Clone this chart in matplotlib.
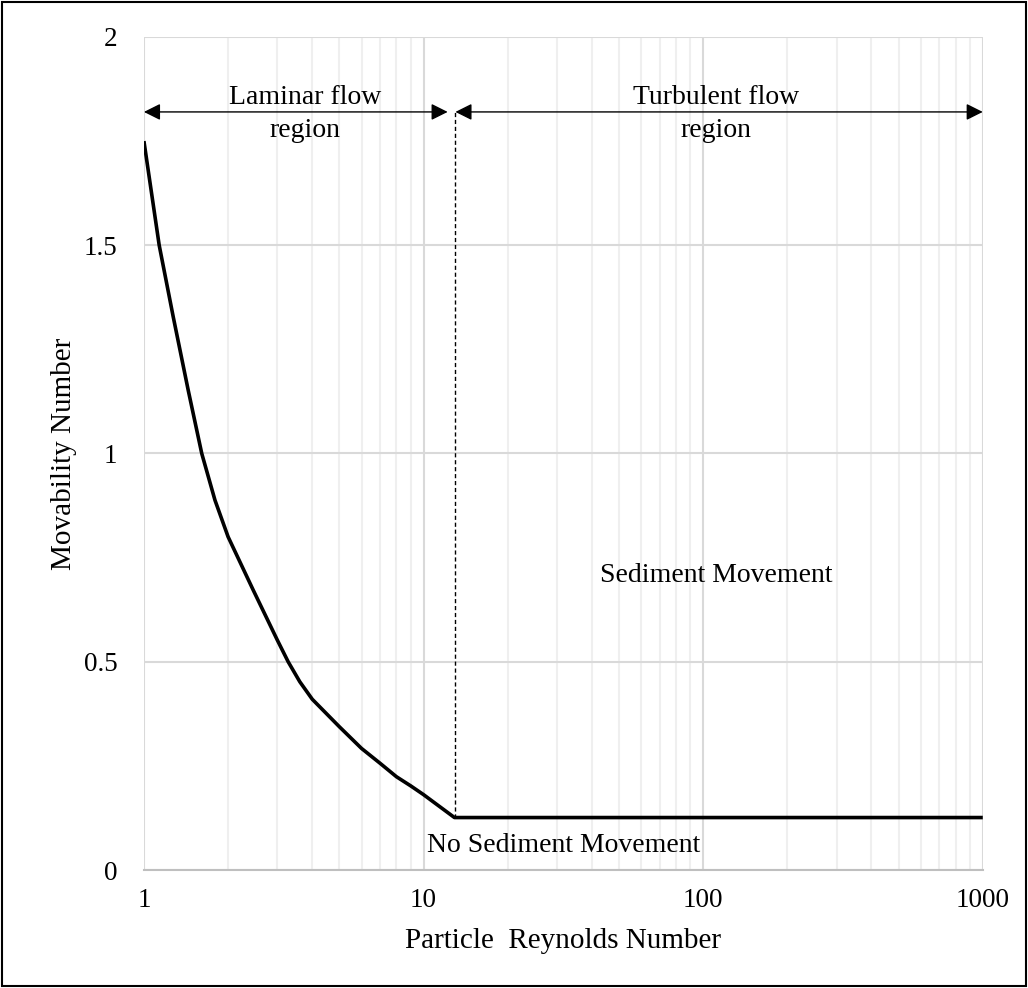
import matplotlib
matplotlib.use("Agg")
import matplotlib.pyplot as plt
from matplotlib.ticker import FixedLocator, LogLocator, NullFormatter, FixedFormatter

plt.rcParams['font.family'] = ['Liberation Serif', 'DejaVu Serif']

# Data
re_p = [1.0, 1.134, 1.273, 1.44, 1.61, 1.795, 2.0, 2.46, 3.0, 3.28, 3.61, 4.0,
        5.0, 6.0, 7.0, 8.0, 9.0, 10.0, 12.9, 1000.0]
mov = [1.75, 1.5, 1.328, 1.152, 1.0, 0.888, 0.80, 0.672, 0.552, 0.5, 0.452, 0.41,
       0.344, 0.292, 0.256, 0.224, 0.202, 0.181, 0.126, 0.126]
boundary_x = 13.0
arrow_y = 1.82
xticks = [1, 10, 100, 1000]
xtick_labels = ["1", "10", "100", "1000"]
yticks = [0, 0.5, 1.0, 1.5, 2.0]
ytick_labels = ["0", "0.5", "1", "1.5", "2"]

fig = plt.figure(figsize=(10.28, 9.88), dpi=100)
ax = fig.add_axes([0.140, 0.1194, 0.816, 0.8432])
ax.set_xscale('log')
ax.set_xlim(1, 1000)
ax.set_ylim(0, 2)

ax.xaxis.set_major_locator(FixedLocator(xticks))
ax.xaxis.set_major_formatter(FixedFormatter(xtick_labels))
ax.xaxis.set_minor_locator(LogLocator(base=10, subs=range(2, 10)))
ax.xaxis.set_minor_formatter(NullFormatter())
ax.yaxis.set_major_locator(FixedLocator(yticks))
ax.yaxis.set_major_formatter(FixedFormatter(ytick_labels))

ax.grid(True, which='major', color='#d9d9d9', linewidth=1.5)
ax.grid(True, which='minor', axis='x', color='#efefef', linewidth=1.5)
ax.set_axisbelow(True)
for s in ['top', 'right', 'left']:
    ax.spines[s].set_visible(False)
ax.spines['bottom'].set_color('#bfbfbf')
ax.spines['bottom'].set_linewidth(1.5)
ax.tick_params(which='both', length=0)
ax.tick_params(axis='x', labelsize=19.5, pad=13)
ax.tick_params(axis='y', labelsize=19.5, pad=19)

ax.plot(re_p, mov, color='black', linewidth=2.6, solid_joinstyle='round',
        solid_capstyle='butt', zorder=5)
ax.plot([boundary_x, boundary_x], [mov[-1], arrow_y], color='black',
        linestyle=(0, (3, 2)), linewidth=1.0, zorder=4)

arrowprops = dict(arrowstyle='<|-|>', color='black', lw=1.0, mutation_scale=25,
                  shrinkA=0, shrinkB=0)
ax.annotate('', xy=(1.0, arrow_y), xytext=(12.2, arrow_y), arrowprops=arrowprops)
ax.annotate('', xy=(13.0, arrow_y), xytext=(1000, arrow_y), arrowprops=arrowprops)

ax.text(3.76, arrow_y - 0.005, 'Laminar flow\nregion', ha='center', va='center',
        fontsize=20, linespacing=1.45)
ax.text(111, arrow_y - 0.005, 'Turbulent flow\nregion', ha='center', va='center',
        fontsize=20, linespacing=1.45)
ax.text(111, 0.706, 'Sediment Movement', ha='center', va='center', fontsize=20)
ax.text(31.6, 0.06, 'No Sediment Movement', ha='center', va='center', fontsize=20)

ax.set_xlabel('Particle  Reynolds Number', fontsize=21, labelpad=11)
ax.set_ylabel('Movability Number', fontsize=21, labelpad=5)

fig.patches.append(plt.Rectangle((0.002, 0.002), 0.996, 0.996, transform=fig.transFigure,
                                 fill=False, edgecolor='black', linewidth=1.5))

fig.savefig('out.png', dpi=100)
